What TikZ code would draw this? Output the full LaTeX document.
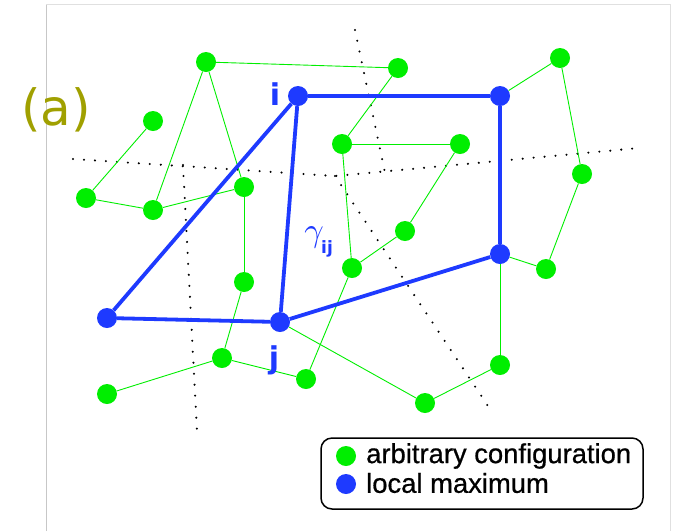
\documentclass[tikz,border=0pt]{standalone}
\usepackage{fontspec}
\setmainfont{Liberation Sans}
\newfontfamily\labelfont{DejaVu Sans}
\newfontfamily\legendfont{Liberation Sans}[FakeBold=0.7]
\usetikzlibrary{backgrounds}
\definecolor{cfggreen}{RGB}{0,238,0}
\definecolor{maxblue}{RGB}{30,58,255}
\definecolor{tagolive}{RGB}{160,160,0}
\tikzset{
  gdot/.style={circle,fill=cfggreen,inner sep=0pt,minimum size=20pt},
  bdot/.style={circle,fill=maxblue,inner sep=0pt,minimum size=20pt},
  gedge/.style={draw=cfggreen,line width=0.9pt},
  bedge/.style={draw=maxblue,line width=3.8pt},
  border/.style={draw=black,line width=2.3pt,line cap=round,dash pattern=on 0pt off 11pt},
  frameline/.style={draw=black!22,line width=1pt},
  lbl/.style={text=maxblue,inner sep=0pt},
  legendtext/.style={anchor=west,inner sep=0pt,font=\legendfont\fontsize{27.4}{30}\selectfont},
}
\begin{document}
\begin{tikzpicture}[x=1pt,y=-1pt]
\useasboundingbox (0,0) rectangle (676,531);

% frame of the panel
\draw[frameline] (46,531) -- (46,4);
\draw[frameline,draw=black!12] (46,4) -- (670,4) -- (670,531);

% configurations
\node[gdot] (g1)  at (206,62)  {};
\node[gdot] (g2)  at (398,68)  {};
\node[gdot] (g3)  at (153,121) {};
\node[gdot] (g4)  at (342,144) {};
\node[gdot] (g5)  at (460,144) {};
\node[gdot] (g6)  at (86,198)  {};
\node[gdot] (g7)  at (153,210) {};
\node[gdot] (g8)  at (244,187) {};
\node[gdot] (g9)  at (405,231) {};
\node[gdot] (g10) at (352,268) {};
\node[gdot] (g11) at (244,282) {};
\node[gdot] (g12) at (222,358) {};
\node[gdot] (g13) at (107,394) {};
\node[gdot] (g14) at (306,379) {};
\node[gdot] (g15) at (500,365) {};
\node[gdot] (g16) at (425,403) {};
\node[gdot] (g17) at (560,58)  {};
\node[gdot] (g18) at (582,174) {};
\node[gdot] (g19) at (546,269) {};

% local maxima
\node[bdot] (bi) at (298,96)  {};
\node[bdot] (bk) at (500,96)  {};
\node[bdot] (bl) at (500,254) {};
\node[bdot] (bj) at (280,322) {};
\node[bdot] (bm) at (107,318) {};

% ends of the basin boundaries
\coordinate (d1) at (73,159);
\coordinate (d2) at (335,176);
\coordinate (d3) at (639,148);
\coordinate (d4) at (355,30);
\coordinate (d5) at (385,173);
\coordinate (d6) at (488,406);
\coordinate (d7) at (183,165);
\coordinate (d8) at (197,431);

\begin{pgfonlayer}{background}
  \draw[border] (d1) -- (d2) -- (d3);
  \draw[border] (d4) -- (d5);
  \draw[border] (d2) -- (d6);
  \draw[border] (d7) -- (d8);
\end{pgfonlayer}

% neighbour links
\draw[gedge] (g1) -- (g2);
\draw[gedge] (g1) -- (g7);
\draw[gedge] (g1) -- (g8);
\draw[gedge] (g3) -- (g6);
\draw[gedge] (g6) -- (g7);
\draw[gedge] (g7) -- (g8);
\draw[gedge] (g8) -- (g11);
\draw[gedge] (g11) -- (g12);
\draw[gedge] (g12) -- (g13);
\draw[gedge] (g12) -- (g14);
\draw[gedge] (g2) -- (g4);
\draw[gedge] (g4) -- (g5);
\draw[gedge] (g4) -- (g10);
\draw[gedge] (g5) -- (g9);
\draw[gedge] (g9) -- (g10);
\draw[gedge] (g10) -- (g14);
\draw[gedge] (bj) -- (g16);
\draw[gedge] (g16) -- (g15);
\draw[gedge] (g15) -- (bl);
\draw[gedge] (bk) -- (g17);
\draw[gedge] (g17) -- (g18);
\draw[gedge] (g18) -- (g19);
\draw[gedge] (g19) -- (bl);

% paths between maxima
\draw[bedge] (bi) -- (bk);
\draw[bedge] (bk) -- (bl);
\draw[bedge] (bl) -- (bj);
\draw[bedge] (bj) -- (bm);
\draw[bedge] (bm) -- (bi);
\draw[bedge] (bi) -- (bj);

% labels
\node[text=tagolive,inner sep=0pt,font=\labelfont\fontsize{50}{60}\selectfont] (tag) at (56,110) {(a)};
\node[lbl,font=\labelfont\bfseries\fontsize{30}{36}\selectfont] (li) at (275,94) {i};
\node[lbl,font=\labelfont\bfseries\fontsize{30}{36}\selectfont] (lj) at (274,360) {j};
\node[lbl] (lg) at (314,237) {\scalebox{3.4}{$\gamma$}};
\node[lbl,font=\labelfont\bfseries\fontsize{17}{20}\selectfont] (lij) at (327,249) {ij};

% legend
\draw[line width=1.5pt,rounded corners=11pt] (321,438) rectangle (643,509);
\node[gdot] (kg) at (346,456) {};
\node[bdot] (kb) at (346,484) {};
\node[legendtext] (tg) at (366,456) {arbitrary configuration};
\node[legendtext] (tb) at (366,483) {local maximum};
\end{tikzpicture}
\end{document}
